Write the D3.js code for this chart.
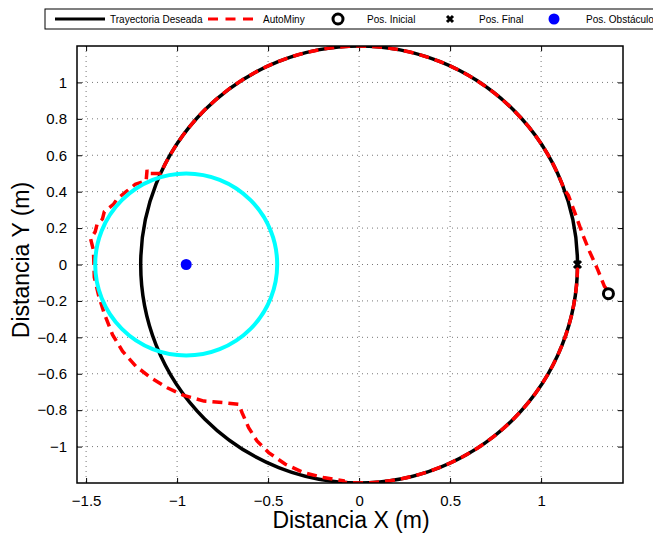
<!DOCTYPE html>
<html><head><meta charset="utf-8">
<script src="https://cdn.jsdelivr.net/npm/d3@7"></script>
<style>body{margin:0;background:#fff}svg{display:block}text{font-family:"Liberation Sans",Arial,sans-serif}</style>
</head><body><svg id="c" width="653" height="534"></svg>
<script>
// ---- data ----
const xTicks = [-1.5, -1, -0.5, 0, 0.5, 1];
const yTicks = [-1, -0.8, -0.6, -0.4, -0.2, 0, 0.2, 0.4, 0.6, 0.8, 1];
const xDomain = [-1.55, 1.45];
const yDomain = [-1.2, 1.2];
const desiredCenter = [0, 0];
const desiredRadius = 1.2;
const obstacleCenter = [-0.95, 0];
const obstacleRadius = 0.5;
const initialPos = [1.37, -0.16];
const finalPos = [1.2, 0];
// AutoMiny path: approach, arc on trajectory (deg), avoidance, arc (deg)
const approachPts = [[1.36,-0.135],[1.348,-0.12],[1.311,-0.028],[1.266,0.072],[1.229,0.163],[1.193,0.264],[1.15,0.38]];
const arc1Deg = [20, 155];
const avoidPts = [[-1.09,0.50],[-1.16,0.50],[-1.165,0.52],[-1.17,0.46],[-1.23,0.44],[-1.28,0.40],[-1.33,0.36],[-1.35,0.33],[-1.40,0.29],[-1.41,0.25],[-1.44,0.22],[-1.45,0.18],[-1.475,0.14],[-1.46,0.08],[-1.457,0.0],[-1.455,-0.07],[-1.43,-0.175],[-1.40,-0.27],[-1.355,-0.385],[-1.30,-0.476],[-1.227,-0.558],[-1.145,-0.622],[-1.054,-0.677],[-0.963,-0.719],[-0.853,-0.75],[-0.744,-0.759],[-0.661,-0.768],[-0.643,-0.814],[-0.607,-0.896],[-0.561,-0.969],[-0.497,-1.033],[-0.405,-1.097],[-0.305,-1.143],[-0.196,-1.170],[-0.086,-1.188]];
const arc2Deg = [266, 360];
const legendLabels = ["Trayectoria Deseada", "AutoMiny", "Pos. Inicial", "Pos. Final", "Pos. Obstáculo"];
const xTitle = "Distancia X (m)";
const yTitle = "Distancia Y (m)";

// ---- drawing ----
const svg = d3.select("#c");
const L = 77, R = 623, T = 46, B = 483;
const x = d3.scaleLinear().domain(xDomain).range([L, R]);
const y = d3.scaleLinear().domain(yDomain).range([B, T]);
const fmt = v => (v < 0 ? "\u2212" : "") + String(Math.abs(v));
const k = x(1) - x(0);

// grid
const grid = svg.append("g").attr("stroke", "#777").attr("stroke-width", 1).attr("stroke-dasharray", "1,4");
xTicks.forEach(t => grid.append("line").attr("x1", x(t)).attr("x2", x(t)).attr("y1", T).attr("y2", B));
yTicks.forEach(t => grid.append("line").attr("y1", y(t)).attr("y2", y(t)).attr("x1", L).attr("x2", R));

// axes with inner ticks on all four sides
const ax = d3.axisBottom(x).tickValues(xTicks).tickSizeInner(-5).tickSizeOuter(0).tickFormat(fmt).tickPadding(12);
const gB = svg.append("g").attr("transform", `translate(0,${B})`).call(ax);
const gT = svg.append("g").attr("transform", `translate(0,${T})`).call(d3.axisTop(x).tickValues(xTicks).tickSizeInner(-5).tickSizeOuter(0).tickFormat(""));
const gL = svg.append("g").attr("transform", `translate(${L},0)`).call(d3.axisLeft(y).tickValues(yTicks).tickSizeInner(-5).tickSizeOuter(0).tickFormat(fmt).tickPadding(10));
const gR = svg.append("g").attr("transform", `translate(${R},0)`).call(d3.axisRight(y).tickValues(yTicks).tickSizeInner(-5).tickSizeOuter(0).tickFormat(""));
[gB, gT, gL, gR].forEach(g => { g.select(".domain").remove(); g.selectAll("line").attr("stroke", "#000").attr("stroke-width", 1); g.selectAll("text").attr("font-size", 15).attr("fill", "#000").attr("font-family", "Liberation Sans, Arial, sans-serif"); });

// clip
svg.append("clipPath").attr("id", "clip").append("rect").attr("x", L).attr("y", T).attr("width", R - L).attr("height", B - T);
const plot = svg.append("g").attr("clip-path", "url(#clip)");

// desired trajectory
plot.append("circle").attr("cx", x(desiredCenter[0])).attr("cy", y(desiredCenter[1])).attr("r", desiredRadius * k)
  .attr("fill", "none").attr("stroke", "#000").attr("stroke-width", 3.5);

// AutoMiny path
const p = d3.path();
const rad = d => d * Math.PI / 180;
approachPts.forEach((d, i) => i ? p.lineTo(x(d[0]), y(d[1])) : p.moveTo(x(d[0]), y(d[1])));
p.arc(x(desiredCenter[0]), y(desiredCenter[1]), desiredRadius * k, -rad(arc1Deg[0]), -rad(arc1Deg[1]), true);
avoidPts.forEach(d => p.lineTo(x(d[0]), y(d[1])));
p.arc(x(desiredCenter[0]), y(desiredCenter[1]), desiredRadius * k, -rad(arc2Deg[0]), -rad(arc2Deg[1]), true);
plot.append("path").attr("d", p.toString()).attr("fill", "none").attr("stroke", "#ff0000").attr("stroke-width", 3.5).attr("stroke-dasharray", "10,6");

// obstacle
plot.append("circle").attr("cx", x(obstacleCenter[0])).attr("cy", y(obstacleCenter[1])).attr("r", obstacleRadius * k)
  .attr("fill", "none").attr("stroke", "#00ffff").attr("stroke-width", 4);

// markers
function ring(g, cx, cy) { g.append("circle").attr("cx", cx).attr("cy", cy).attr("r", 5).attr("fill", "none").attr("stroke", "#000").attr("stroke-width", 3); }
function cross(g, cx, cy, s) { g.append("path").attr("d", `M${cx-s},${cy-s}L${cx+s},${cy+s}M${cx-s},${cy+s}L${cx+s},${cy-s}`).attr("stroke", "#000").attr("stroke-width", 3); }
function dot(g, cx, cy) { g.append("circle").attr("cx", cx).attr("cy", cy).attr("r", 5.5).attr("fill", "#0000ff"); }
ring(svg, x(initialPos[0]), y(initialPos[1]));
cross(svg, x(finalPos[0]), y(finalPos[1]), 3.5);
dot(svg, x(obstacleCenter[0]), y(obstacleCenter[1]));

// box
svg.append("rect").attr("x", L).attr("y", T).attr("width", R - L).attr("height", B - T).attr("fill", "none").attr("stroke", "#000").attr("stroke-width", 1.5);

// titles
svg.append("text").attr("x", 351).attr("y", 528).attr("text-anchor", "middle").attr("font-size", 23).text(xTitle);
svg.append("text").attr("transform", "translate(29,260) rotate(-90)").attr("text-anchor", "middle").attr("font-size", 23).text(yTitle);

// legend
const lg = svg.append("g");
lg.append("rect").attr("x", 45).attr("y", 9).attr("width", 640).attr("height", 20).attr("fill", "#fff").attr("stroke", "#000").attr("stroke-width", 1);
const ly = 19;
lg.append("line").attr("x1", 55).attr("x2", 105).attr("y1", ly).attr("y2", ly).attr("stroke", "#000").attr("stroke-width", 3);
lg.append("line").attr("x1", 208).attr("x2", 258).attr("y1", ly).attr("y2", ly).attr("stroke", "#ff0000").attr("stroke-width", 3).attr("stroke-dasharray", "10,7.5");
ring(lg, 338, ly);
cross(lg, 450, ly, 3);
dot(lg, 554, ly);
const lx = [110, 263, 367, 479, 586];
legendLabels.forEach((t, i) => lg.append("text").attr("x", lx[i]).attr("y", ly + 3.5).attr("font-size", 10).text(t));
</script></body></html>
